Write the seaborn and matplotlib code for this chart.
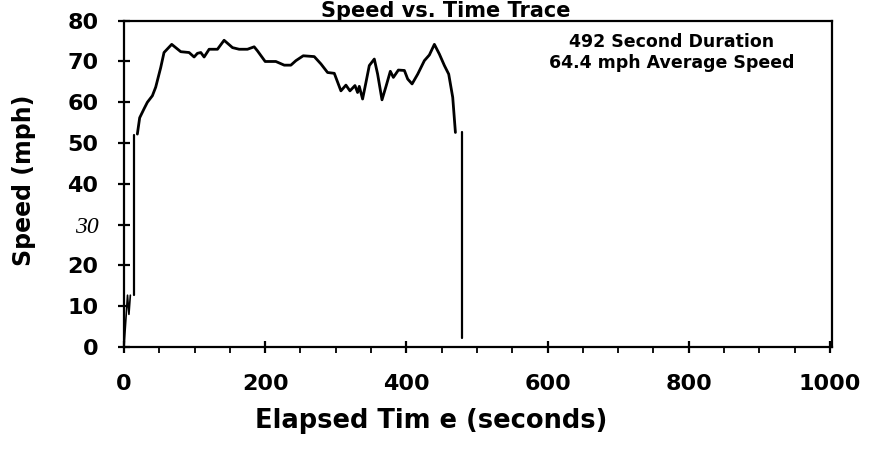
import matplotlib
matplotlib.use("Agg")
import matplotlib.pyplot as plt
import numpy as np
import pandas as pd
import seaborn as sns
from matplotlib.ticker import MultipleLocator

# ---- data ----
trace_t = [18.9, 22.2, 28.4, 33.1, 40.2, 44.9, 52.0, 56.7, 67.6, 80.4, 92.2, 99.3,
           104.0, 108.8, 113.5, 120.6, 132.4, 141.8, 153.7, 163.1, 174.9, 184.4, 189.1,
           200.0, 215.1, 227.0, 236.4, 243.5, 253.9, 269.5, 279.0, 288.4, 297.9, 307.3,
           314.4, 320.1, 327.2, 330.9, 333.3, 338.0, 342.8, 347.5, 354.6, 359.3, 365.5,
           371.2, 377.3, 381.6, 388.7, 397.2, 401.9, 408.1, 416.1, 425.5, 432.6, 439.7,
           446.8, 453.9, 460.0, 465.7, 469.5]
trace_v = [52.2, 56.2, 58.4, 60.0, 61.6, 63.7, 68.5, 72.2, 74.2, 72.4, 72.2, 71.1,
           72.0, 72.2, 71.1, 73.0, 73.0, 75.2, 73.4, 73.0, 73.0, 73.6, 72.6,
           70.0, 70.0, 69.1, 69.1, 70.2, 71.4, 71.2, 69.4, 67.3, 67.1, 62.8,
           64.2, 62.8, 64.1, 62.4, 63.9, 60.8, 64.9, 69.0, 70.6, 66.9, 60.6,
           63.9, 67.6, 66.1, 67.9, 67.8, 65.7, 64.5, 66.9, 70.2, 71.6, 74.2,
           71.8, 69.0, 66.9, 61.2, 52.6]
launch_t = [0, 5, 7, 9]
launch_v = [0, 12.7, 8, 12.7]
rise_t = [14, 14]
rise_v = [12.7, 52.0]
fall_t = [479, 479]
fall_v = [52.6, 2.1]

x_ticks = [0, 200, 400, 600, 800, 1000]
y_ticks = [0, 10, 20, 30, 40, 50, 60, 70, 80]
title = "Speed vs. Time Trace"
x_label = "Elapsed Tim e (seconds)"
y_label = "Speed (mph)"
note = "492 Second Duration\n64.4 mph Average Speed"

segments = [("trace", trace_t, trace_v, 2.0),
            ("launch", launch_t, launch_v, 1.2),
            ("rise", rise_t, rise_v, 1.6),
            ("fall", fall_t, fall_v, 1.6)]

sns.set_theme(style="ticks")
plt.rcParams["font.family"] = ["DejaVu Sans"]

fig = plt.figure(figsize=(8.71, 4.49), dpi=100)
ax = fig.add_axes([124 / 871, 1 - 347 / 449, (832 - 124) / 871, (347 - 20.7) / 449])

for name, t, v, lw in segments:
    df = pd.DataFrame({"t": t, "v": v})
    sns.lineplot(data=df, x="t", y="v", ax=ax, color="black", lw=lw,
                 estimator=None, sort=False)

ax.set_xlim(0, 1003)
ax.set_ylim(0, 80)
ax.set_xticks(x_ticks, [str(x) for x in x_ticks])
ax.set_yticks(y_ticks, [str(y) for y in y_ticks])
ax.xaxis.set_minor_locator(MultipleLocator(50))

for s in ax.spines.values():
    s.set_visible(True)
    s.set_linewidth(1.6)
    s.set_color("black")

ax.tick_params(axis="both", which="major", direction="inout", length=9, width=1.6,
               color="black", labelsize=16, labelcolor="black")
ax.tick_params(axis="y", which="major", pad=14)
ax.tick_params(axis="x", which="major", pad=15)
ax.tick_params(axis="x", which="minor", direction="out", length=4, width=1.3, color="black")
for lbl in ax.get_xticklabels() + ax.get_yticklabels():
    lbl.set_fontweight("bold")
for tk in ax.yaxis.get_major_ticks():
    if tk.label1.get_text() == "30":
        tk.label1.set_fontfamily("Liberation Serif")
        tk.label1.set_fontstyle("italic")
        tk.label1.set_fontweight("normal")
        tk.label1.set_fontsize(17)

ax.set_xlabel(x_label, fontsize=18.5, fontweight="bold", color="black")
ax.set_ylabel(y_label, fontsize=17, fontweight="bold", color="black")
ax.xaxis.set_label_coords((431 - 124) / (832 - 124), -(408 - 347) / (347 - 20.7))
ax.yaxis.set_label_coords(-(124 - 36) / (832 - 124), 0.5 + (184 - 180) / (347 - 20.7))

ax.text((672 - 124) / (832 - 124), (347 - 33) / (347 - 20.7), note, transform=ax.transAxes,
        ha="center", va="top", fontsize=12.5, fontweight="bold", linespacing=1.2,
        multialignment="center", color="black")

fig.text(446 / 871, 1 - 17 / 449, title, ha="center", va="baseline",
         fontsize=15, fontweight="bold", color="black")

fig.savefig("out.png", dpi=100)
